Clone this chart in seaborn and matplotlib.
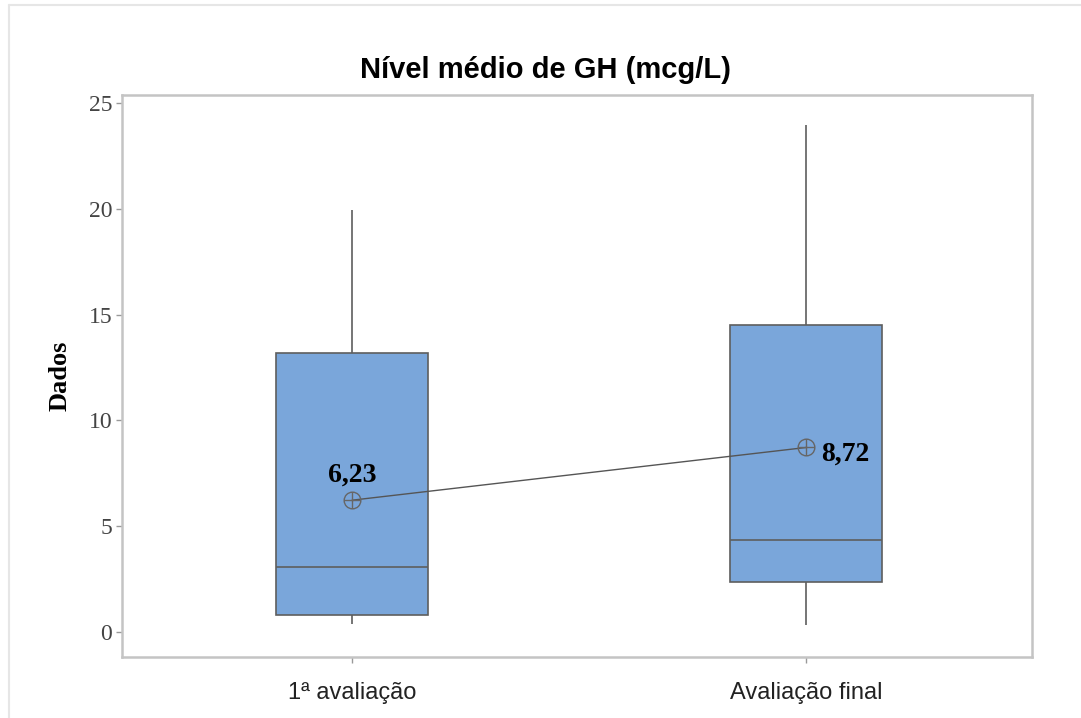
import numpy as np
import pandas as pd
import matplotlib
matplotlib.use("Agg")
import matplotlib.pyplot as plt
from matplotlib.path import Path
from matplotlib.lines import Line2D
import seaborn as sns

# Dados (resumo de cinco números de cada caixa)
avaliacoes = ["1ª avaliação", "Avaliação final"]
resumo_1 = [0.38, 0.80, 3.07, 13.19, 19.94]   # min, Q1, mediana, Q3, max
resumo_2 = [0.33, 2.36, 4.35, 14.50, 23.96]
medias = [6.23, 8.72]
rotulos_media = ["6,23", "8,72"]

df = pd.DataFrame({
    "avaliacao": [avaliacoes[0]] * len(resumo_1) + [avaliacoes[1]] * len(resumo_2),
    "valor": resumo_1 + resumo_2,
})
df_media = pd.DataFrame({"avaliacao": avaliacoes, "media": medias})

sns.set_style("white")
serif = ["Liberation Serif", "DejaVu Serif"]
sans = ["Liberation Sans", "DejaVu Sans"]

fig = plt.figure(figsize=(10.81, 7.18), dpi=100)
ax = fig.add_axes([0.1129, 0.085, 0.8418, 0.7827])

sns.boxplot(data=df, x="avaliacao", y="valor", order=avaliacoes, ax=ax,
            color="#7aa6da", saturation=1, width=0.335, linecolor="#5e5e5e",
            linewidth=1.2, showcaps=False, fliersize=0, whis=10)

# marcador da média: círculo com cruz
circ = Path.unit_circle()
cruz = Path([[-1, 0], [1, 0], [0, -1], [0, 1]],
            [Path.MOVETO, Path.LINETO, Path.MOVETO, Path.LINETO])
marcador = Path.make_compound_path(circ, cruz)

sns.pointplot(data=df_media, x="avaliacao", y="media", order=avaliacoes, ax=ax,
              color="#555555", markers="", linestyles="-", errorbar=None)
for ln in ax.lines[-1:]:
    ln.set_linewidth(1.0)
    ln.set_marker(marcador)
    ln.set_markersize(12)
    ln.set_markerfacecolor("none")
    ln.set_markeredgecolor("#666666")
    ln.set_markeredgewidth(1.0)

# rótulos das médias
ax.annotate(rotulos_media[0], xy=(0, medias[0]), xytext=(0, 9),
            textcoords="offset points", ha="center", va="bottom",
            fontsize=20, fontweight="bold", family=serif, color="black")
ax.annotate(rotulos_media[1], xy=(1, medias[1]), xytext=(11, -5),
            textcoords="offset points", ha="left", va="center",
            fontsize=20, fontweight="bold", family=serif, color="black")

ax.set_xlim(-0.507, 1.498)
ax.set_ylim(-1.18, 25.38)
ax.set_yticks([0, 5, 10, 15, 20, 25])
ax.set_xlabel("")
ax.set_ylabel("Dados", fontsize=19, fontweight="bold", family=serif,
              color="black", labelpad=12)
ax.set_title("Nível médio de GH (mcg/L)", fontsize=21, fontweight="bold",
             family=sans, color="black", pad=12, x=0.465)

for lab in ax.get_yticklabels():
    lab.set_family(serif)
    lab.set_fontsize(17)
    lab.set_color("#444444")
for lab in ax.get_xticklabels():
    lab.set_family(sans)
    lab.set_fontsize(17)
    lab.set_color("#222222")

ax.tick_params(axis="both", direction="out", length=4, width=1,
               color="#999999", left=True, bottom=True)
ax.tick_params(axis="x", pad=14)
ax.tick_params(axis="y", pad=3)
for sp in ax.spines.values():
    sp.set_visible(True)
    sp.set_color("#c4c4c4")
    sp.set_linewidth(1.8)

# borda da figura (apenas em cima e à esquerda)
fig.add_artist(Line2D([9 / 1081, 9 / 1081], [0, 1 - 5 / 718],
                      transform=fig.transFigure, color="#e6e6e6", linewidth=1.5))
fig.add_artist(Line2D([9 / 1081, 1], [1 - 5 / 718, 1 - 5 / 718],
                      transform=fig.transFigure, color="#e6e6e6", linewidth=1.5))

fig.savefig("out.png", dpi=100)
